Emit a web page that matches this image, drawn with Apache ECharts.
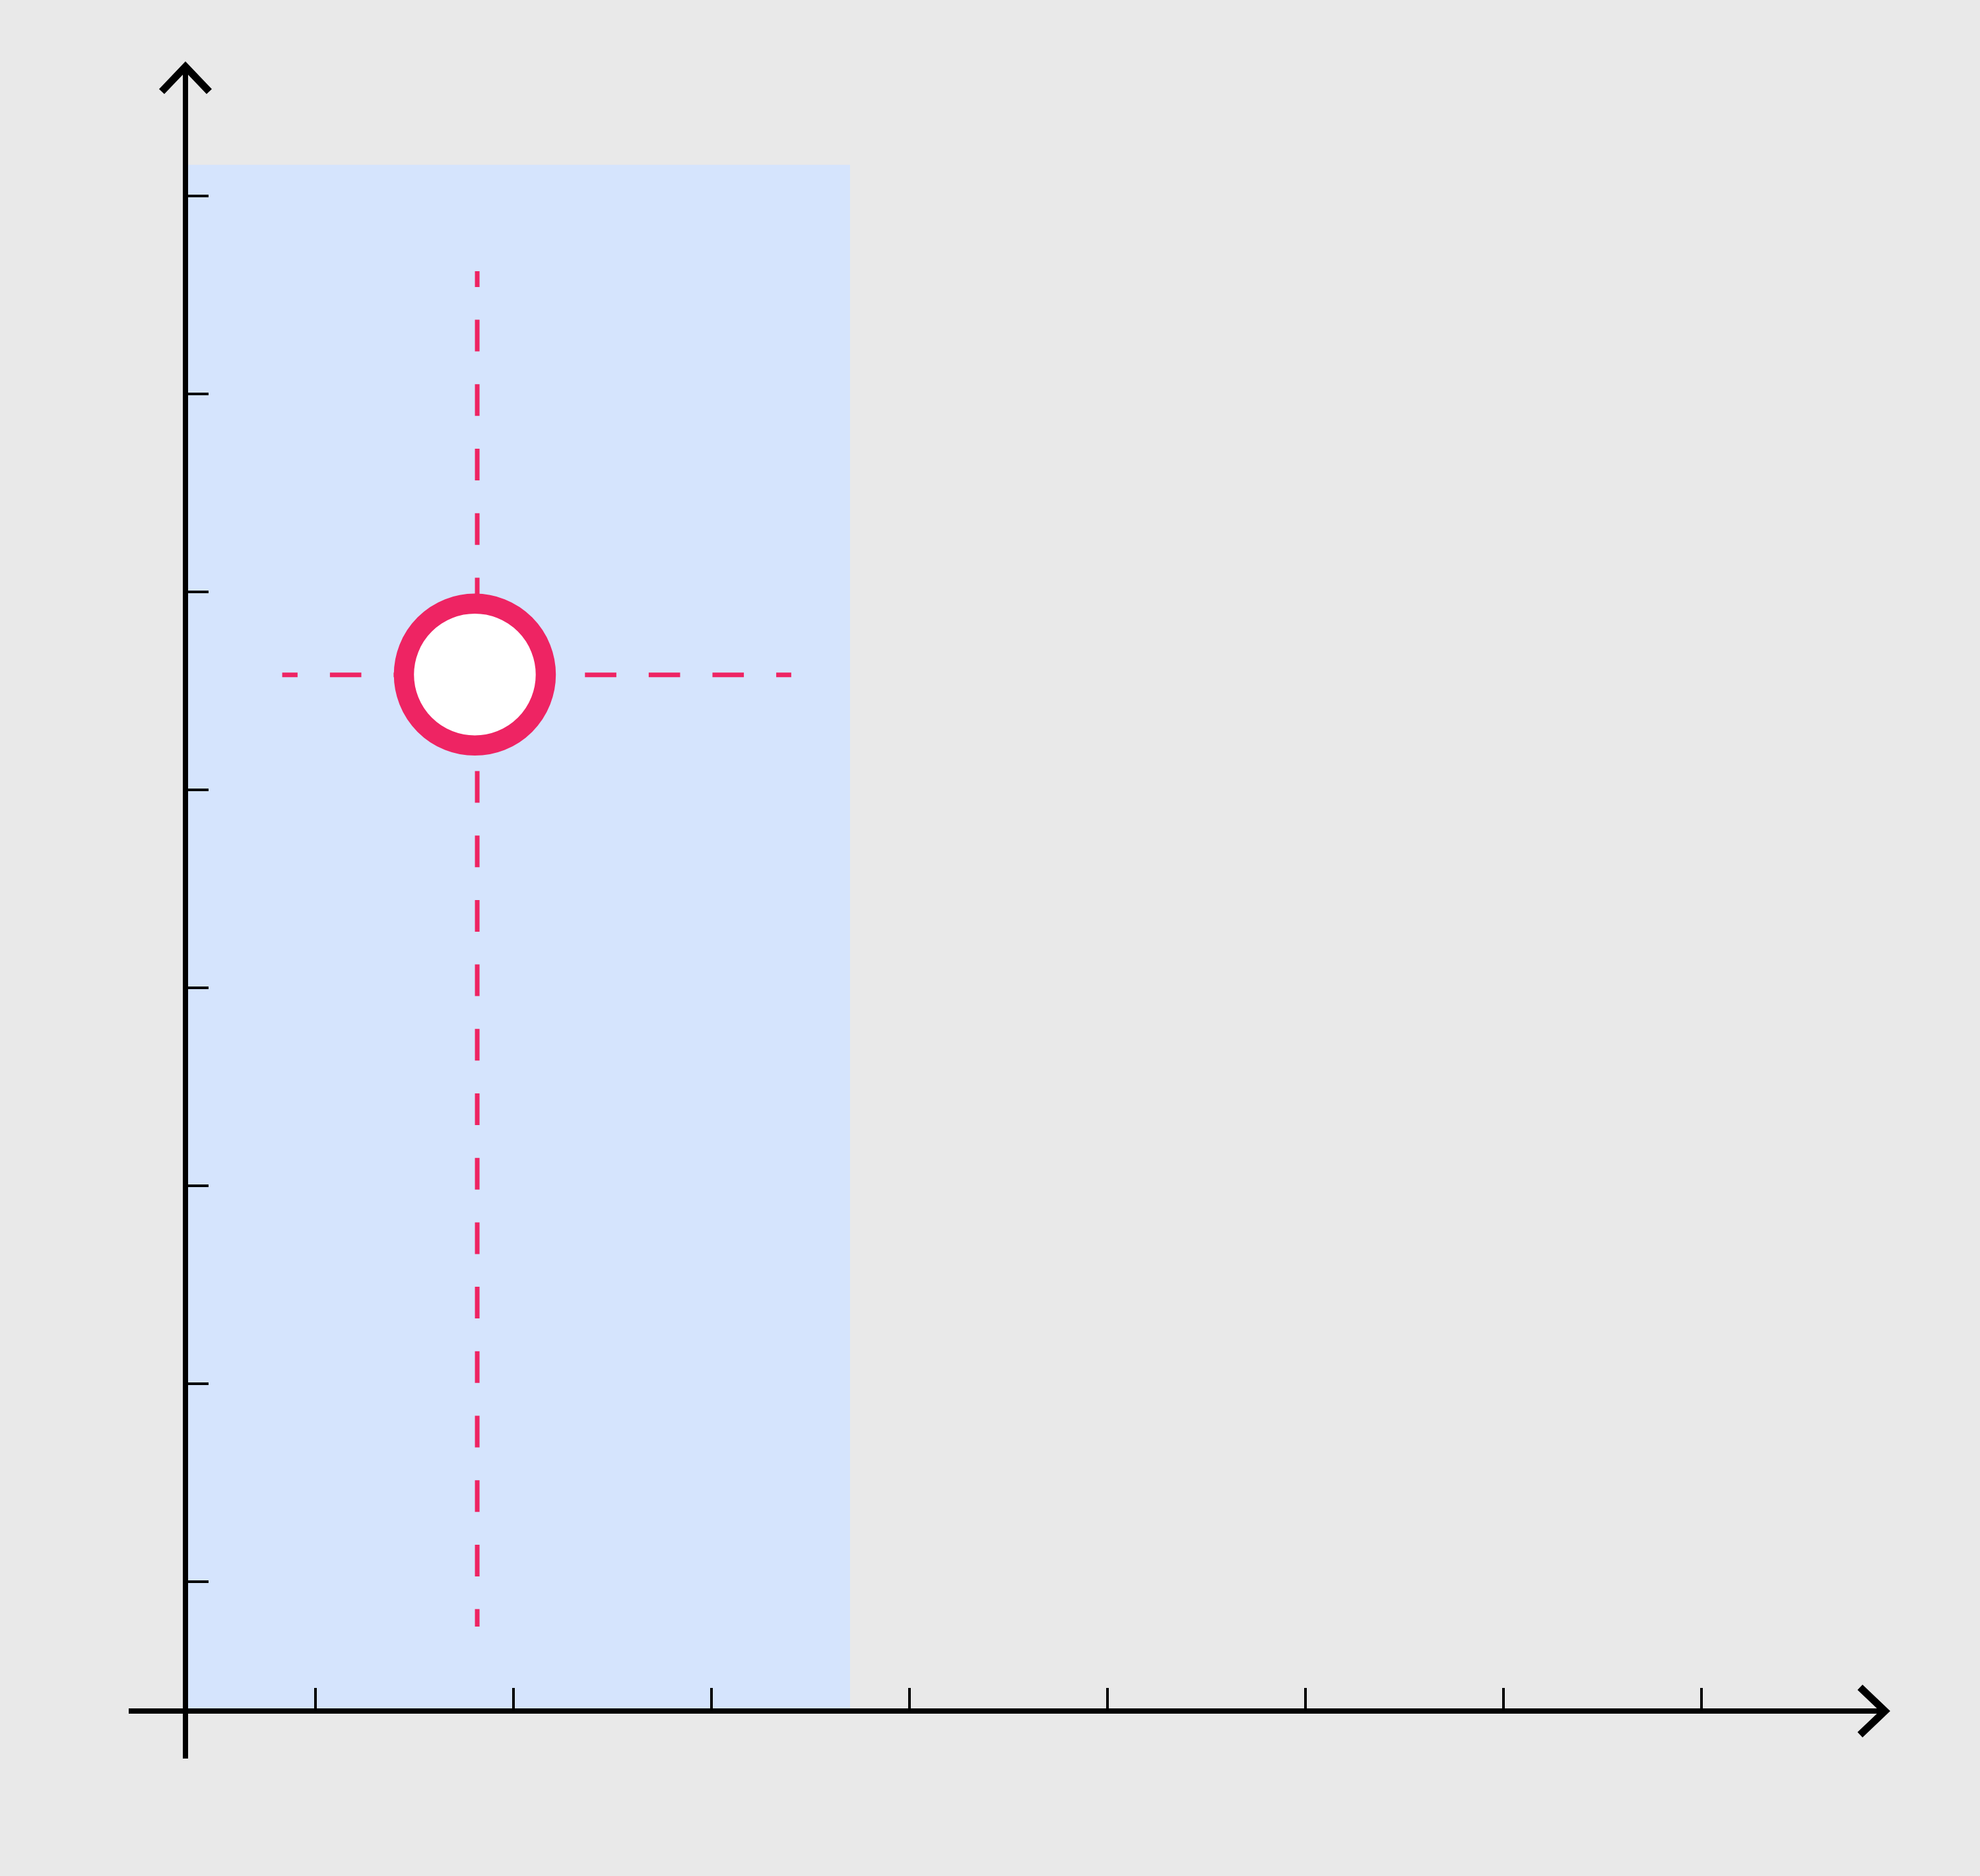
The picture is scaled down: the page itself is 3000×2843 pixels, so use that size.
<!DOCTYPE html>
<html><head><meta charset="utf-8">
<script src="https://cdn.jsdelivr.net/npm/echarts@6/dist/echarts.min.js"></script>
<style>html,body{margin:0;padding:0;background:#e9e9e9}#c{width:3000px;height:2843px}</style>
</head><body><div id="c"></div>
<script>
// tick positions (axis units)
const xTicks = [1, 2, 3, 4, 5, 6, 7, 8];
const yTicks = [1, 2, 3, 4, 5, 6, 7, 8];
// axis extents
const xRange = [0.0567, 8.937];
const yRange = [0.1067, 8.663];
// where the two axes cross
const axisCross = [0.3433, 0.3467];
// shaded region
const shadedX = [0.3433, 3.70];
const shadedY = [0.3467, 8.157];
// the point
const point = [1.805, 5.582];
// dashed guide lines
const vLine = [[1.817, 7.62], [1.817, 0.773]];
const hLine = [[0.832, 5.581], [3.403, 5.581]];

const RED = '#ee2463';
const ARROW = 'path://M40,0L80,42L72.03,49.6L40,15.97L7.97,49.6L0,42Z';
const GRID = {left: 195, right: 141, top: 98, bottom: 178};

const chart = echarts.init(document.getElementById('c'), null, {renderer: 'canvas'});

function axisCommon(ticks, range, offset) {
  return {
    type: 'value', min: range[0], max: range[1], offset: offset, z: 10,
    splitLine: {show: false},
    axisLabel: {show: false},
    axisLine: {show: true, onZero: false,
      lineStyle: {color: '#000', width: 8, cap: 'butt'},
      symbol: ['none', ARROW], symbolSize: [80, 49.6], symbolOffset: [0, -19.8]},
    axisTick: {show: true, inside: true, length: 35, customValues: ticks,
      lineStyle: {color: '#000', width: 4}}
  };
}

function build(xOff, yOff) {
  return {
    backgroundColor: '#e9e9e9',
    animation: false,
    grid: Object.assign({containLabel: false}, GRID),
    xAxis: Object.assign(axisCommon(xTicks, xRange, xOff), {position: 'bottom'}),
    yAxis: Object.assign(axisCommon(yTicks, yRange, yOff), {position: 'left'}),
    series: [
      {type: 'line', data: [], z: 1, silent: true,
       markArea: {silent: true, itemStyle: {color: '#d5e4fd'},
         data: [[{coord: [shadedX[0], shadedY[0]]}, {coord: [shadedX[1], shadedY[1]]}]]}},
      {type: 'line', data: vLine, symbol: 'none', z: 3, silent: true,
       lineStyle: {color: RED, width: 7, type: [48, 49.7], dashOffset: 24, cap: 'butt'}},
      {type: 'line', data: hLine, symbol: 'none', z: 3, silent: true,
       lineStyle: {color: RED, width: 7, type: [47.6, 49], dashOffset: 24.3, cap: 'butt'}},
      {type: 'scatter', data: [point], z: 5, silent: true,
       symbol: 'circle', symbolSize: 215,
       itemStyle: {color: '#ffffff', borderColor: RED, borderWidth: 30.5, opacity: 1}}
    ]
  };
}

chart.setOption(build(0, 0));
const cross = chart.convertToPixel({gridIndex: 0}, axisCross);
const gridBottomPx = 2843 - GRID.bottom;
const xOff = cross[1] - gridBottomPx;
const yOff = GRID.left - cross[0];
chart.setOption(build(xOff, yOff));
</script>
</body></html>
